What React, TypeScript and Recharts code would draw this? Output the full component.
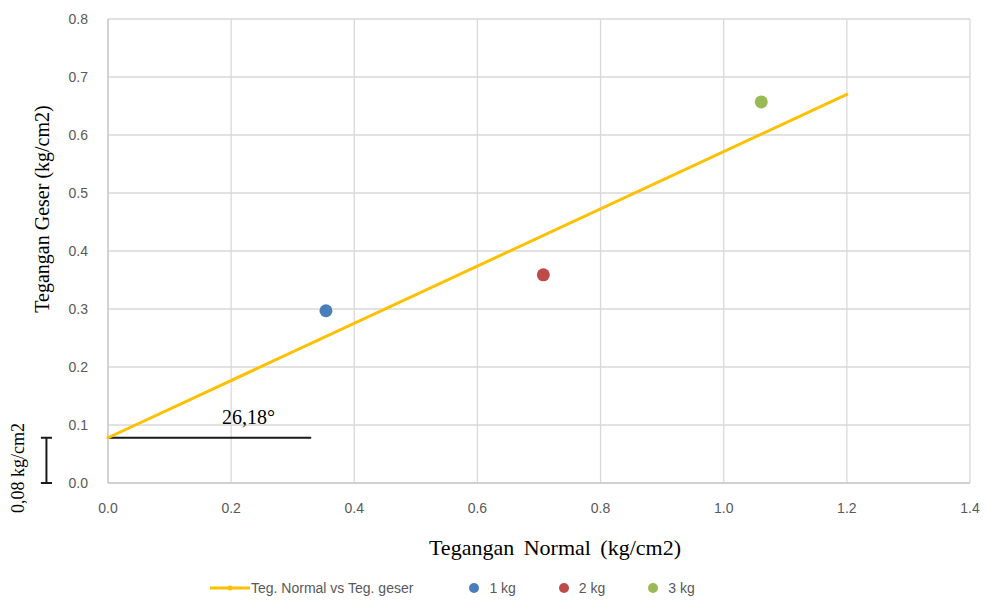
import {
  CartesianGrid,
  ReferenceDot,
  ReferenceLine,
  Scatter,
  ScatterChart,
  XAxis,
  YAxis,
} from "recharts";

// data
const X_TICKS = [0, 0.2, 0.4, 0.6, 0.8, 1.0, 1.2, 1.4];
const Y_TICKS = [0, 0.1, 0.2, 0.3, 0.4, 0.5, 0.6, 0.7, 0.8];

const TREND = [
  { x: 0, y: 0.078 },
  { x: 1.2, y: 0.67 },
];

const SAMPLE_NAMES = ["1 kg", "2 kg", "3 kg"];
const SAMPLE_X = [0.354, 0.707, 1.061];
const SAMPLE_Y = [0.297, 0.359, 0.657];

const COHESION = 0.078;
const ANGLE_TEXT = "26,18°";
const COHESION_TEXT = "0,08 kg/cm2";
const TREND_NAME = "Teg. Normal vs Teg. geser";

const SAMPLE_COLORS = ["#4a7ebb", "#be4b48", "#98b954"];
const TREND_COLOR = "#ffc000";
const TICK_COLOR = "#595959";
const SERIF = '"Liberation Serif", "Times New Roman", serif';
const SANS = '"Liberation Sans", Arial, sans-serif';

const fmt = (v: number) => v.toFixed(1);

export default function App() {
  return (
    <div
      style={{
        position: "absolute",
        left: 0,
        top: 0,
        width: 988,
        height: 604,
        background: "#fff",
      }}
    >
      <ScatterChart
        width={988}
        height={604}
        margin={{ top: 19, right: 18, bottom: 41, left: 8 }}
      >
        <CartesianGrid stroke="#d9d9d9" strokeWidth={1.3} />
        <XAxis
          type="number"
          dataKey="x"
          domain={[0, 1.4]}
          ticks={X_TICKS}
          tickFormatter={fmt}
          axisLine={{ stroke: "#bfbfbf" }}
          tickLine={false}
          tick={{ fill: TICK_COLOR, fontSize: 14, fontFamily: SANS }}
          tickMargin={14}
          height={80}
          label={{
            content: (p: any) => {
              const vb = p.viewBox;
              return (
                <text
                  x={vb.x + vb.width / 2 + 16}
                  y={vb.y + 72}
                  textAnchor="middle"
                  fontFamily={SERIF}
                  fontSize={22}
                  wordSpacing={4}
                  fill="#000"
                >
                  Tegangan Normal (kg/cm2)
                </text>
              );
            },
          }}
        />
        <YAxis
          type="number"
          dataKey="y"
          domain={[0, 0.8]}
          ticks={Y_TICKS}
          tickFormatter={fmt}
          axisLine={{ stroke: "#bfbfbf" }}
          tickLine={false}
          tick={{ fill: TICK_COLOR, fontSize: 14, fontFamily: SANS }}
          tickMargin={14}
          width={100}
          label={{
            content: (p: any) => {
              const vb = p.viewBox;
              const cx = vb.x + 34;
              const cy = vb.y + vb.height / 2 - 42;
              return (
                <text
                  x={cx}
                  y={cy}
                  transform={`rotate(-90 ${cx} ${cy})`}
                  textAnchor="middle"
                  dominantBaseline="central"
                  fontFamily={SERIF}
                  fontSize={20}
                  fill="#000"
                >
                  Tegangan Geser (kg/cm2)
                </text>
              );
            },
          }}
        />

        {/* horizontal reference at the intercept */}
        <ReferenceLine
          segment={[
            { x: 0, y: COHESION },
            { x: 0.33, y: COHESION },
          ]}
          stroke="#1a1a1a"
          strokeWidth={2}
          ifOverflow="visible"
        />
        <ReferenceDot
          x={0.228}
          y={COHESION}
          r={0}
          ifOverflow="visible"
          label={{
            content: (p: any) => {
              const vb = p.viewBox;
              return (
                <text
                  x={vb.x + vb.width / 2}
                  y={vb.y - 14}
                  textAnchor="middle"
                  fontFamily={SERIF}
                  fontSize={20}
                  fill="#000"
                >
                  {ANGLE_TEXT}
                </text>
              );
            },
          }}
        />

        {/* bracket for the cohesion outside the plot */}
        <ReferenceLine
          segment={[
            { x: -0.1, y: 0 },
            { x: -0.1, y: COHESION },
          ]}
          stroke="#1a1a1a"
          strokeWidth={2}
          ifOverflow="visible"
        />
        <ReferenceLine
          segment={[
            { x: -0.109, y: 0 },
            { x: -0.091, y: 0 },
          ]}
          stroke="#1a1a1a"
          strokeWidth={2}
          ifOverflow="visible"
        />
        <ReferenceLine
          segment={[
            { x: -0.109, y: COHESION },
            { x: -0.091, y: COHESION },
          ]}
          stroke="#1a1a1a"
          strokeWidth={2}
          ifOverflow="visible"
        />
        <ReferenceDot
          x={-0.146}
          y={0.026}
          r={0}
          ifOverflow="visible"
          label={{
            content: (p: any) => {
              const vb = p.viewBox;
              const cx = vb.x + vb.width / 2;
              const cy = vb.y + vb.height / 2;
              return (
                <text
                  x={cx}
                  y={cy}
                  transform={`rotate(-90 ${cx} ${cy})`}
                  textAnchor="middle"
                  dominantBaseline="central"
                  fontFamily={SERIF}
                  fontSize={18}
                  fill="#000"
                >
                  {COHESION_TEXT}
                </text>
              );
            },
          }}
        />

        <Scatter
          name={TREND_NAME}
          data={TREND}
          line={{ stroke: TREND_COLOR, strokeWidth: 3, strokeLinecap: "round" }}
          shape={() => <g />}
          isAnimationActive={false}
        />
        {SAMPLE_NAMES.map((name, i) => (
          <Scatter
            key={name}
            name={name}
            data={[{ x: SAMPLE_X[i], y: SAMPLE_Y[i] }]}
            fill={SAMPLE_COLORS[i]}
            shape={(p: any) => (
              <circle cx={p.cx} cy={p.cy} r={6.5} fill={SAMPLE_COLORS[i]} />
            )}
            isAnimationActive={false}
          />
        ))}
      </ScatterChart>

      {/* legend */}
      <div
        style={{
          position: "absolute",
          left: 210,
          top: 580,
          display: "flex",
          alignItems: "center",
          fontFamily: SANS,
          fontSize: 14,
          color: TICK_COLOR,
          whiteSpace: "nowrap",
        }}
      >
        <svg width={40} height={10} style={{ marginRight: 1 }}>
          <line x1={0} y1={5} x2={40} y2={5} stroke={TREND_COLOR} strokeWidth={3} />
          <circle cx={20} cy={5} r={2.5} fill={TREND_COLOR} />
        </svg>
        <span style={{ marginRight: 55 }}>{TREND_NAME}</span>
        {SAMPLE_NAMES.map((name, i) => (
          <span
            key={name}
            style={{ display: "inline-flex", alignItems: "center", marginRight: 42 }}
          >
            <svg width={12} height={12} style={{ marginRight: 9 }}>
              <circle cx={6} cy={6} r={5} fill={SAMPLE_COLORS[i]} />
            </svg>
            {name}
          </span>
        ))}
      </div>
    </div>
  );
}
